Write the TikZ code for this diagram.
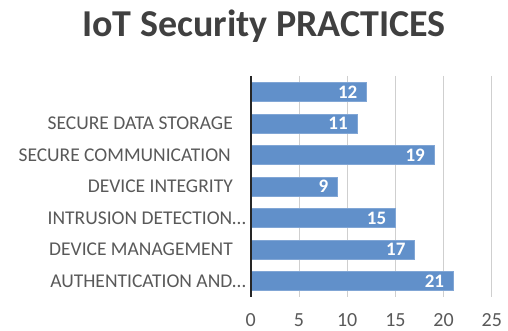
\documentclass[tikz,border=0pt]{standalone}
\usepackage{fontspec}
\setmainfont{Carlito}
\definecolor{barblue}{HTML}{6190CA}
\definecolor{gridgray}{HTML}{CFCFCF}
\definecolor{labelgray}{HTML}{595959}
\definecolor{titlegray}{HTML}{404040}
\begin{document}
\begin{tikzpicture}[x=1pt,y=-1pt,
  catlabel/.style={anchor=east,text=labelgray,font=\fontsize{19.5}{19.5}\selectfont,inner sep=0pt},
  ticklabel/.style={anchor=center,text=labelgray,font=\fontsize{20}{20}\selectfont,inner sep=0pt},
  vallabel/.style={anchor=east,text=white,font=\bfseries\fontsize{19}{19}\selectfont,inner sep=0pt},
  barbox/.style={fill=barblue,draw=barblue!80!white,line width=0.6pt},
  gridline/.style={draw=gridgray,line width=1pt},
  axisline/.style={draw=black!85,line width=2pt}]
\useasboundingbox (0,0) rectangle (508,331);
% title
\node[font=\bfseries\fontsize{38}{38}\selectfont,text=titlegray] (title) at (264,26) {IoT Security PRACTICES};
% vertical gridlines and value axis labels
\foreach \v [count=\k] in {5,10,15,20,25}{
  \coordinate (gt\k) at ({250.8+9.64*\v},76);
  \coordinate (gb\k) at ({250.8+9.64*\v},297);
  \draw[gridline] (gt\k) -- (gb\k);
}
\foreach \v [count=\k] in {0,5,10,15,20,25}{
  \node[ticklabel] (tick\k) at ({250.8+9.64*\v},320) {\v};
}
% bars, values and category names
\foreach \val/\lab/\lx [count=\i] in {12//234,11/SECURE DATA STORAGE/233,19/SECURE COMMUNICATION/231,9/DEVICE INTEGRITY/233,15/INTRUSION DETECTION…/246,17/DEVICE MANAGEMENT/233,21/AUTHENTICATION AND…/246}{
  \pgfmathsetmacro{\yc}{76+31.55*(\i-0.5)}
  \coordinate (bs\i) at (251,{\yc-9.5});
  \coordinate (be\i) at ({250.8+9.64*\val},{\yc+9.5});
  \draw[barbox] (bs\i) rectangle (be\i);
  \node[vallabel] (val\i) at ({250.8+9.64*\val-9},\yc) {\val};
  \node[catlabel] (cat\i) at (\lx,\yc) {\lab};
}
% category axis
\coordinate (axtop) at (250.8,76);
\coordinate (axbot) at (250.8,297);
\draw[axisline] (axtop) -- (axbot);
\end{tikzpicture}
\end{document}
